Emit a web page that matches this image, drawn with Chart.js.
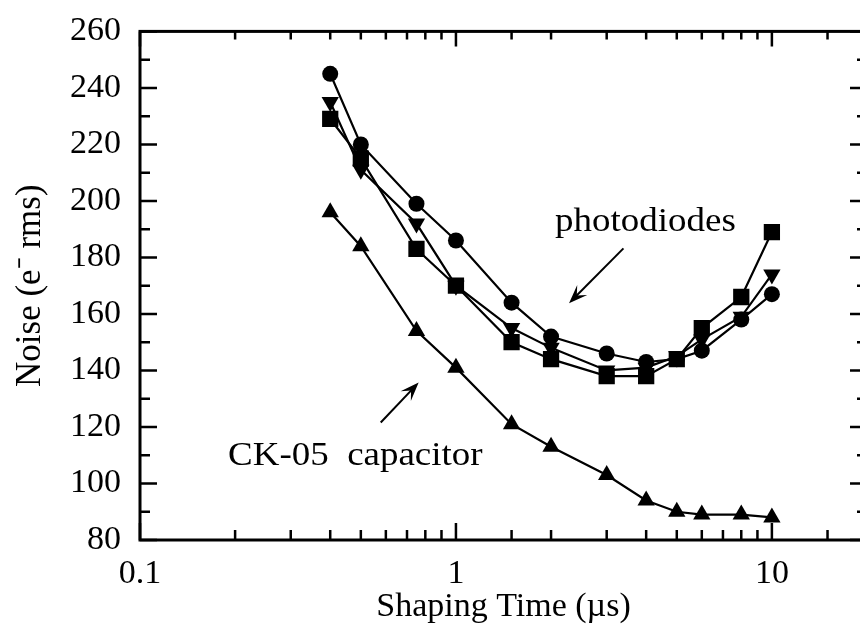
<!DOCTYPE html>
<html>
<head>
<meta charset="utf-8">
<script src="https://cdn.jsdelivr.net/npm/chart.js@4.4.1/dist/chart.umd.min.js"></script>
<style>
body { margin: 0; background: #fff; overflow: hidden; }
#wrap { width: 880px; height: 635px; }
</style>
</head>
<body>
<div id="wrap"><canvas id="myChart"></canvas></div>
<script>
// Shaping time values (us)
var shapingTimes = [0.4, 0.5, 0.75, 1, 1.5, 2, 3, 4, 5, 6, 8, 10];

// Noise (e- rms) for each curve
var diodeCircles   = [245, 220, 199, 186, 164, 152, 146, 143, 144, 147, 158, 167];
var diodeSquares   = [229, 215, 183, 170, 150, 144, 138, 138, 144, 155, 166, 189];
var diodeTriangles = [235, 211, 192, 170, 155, 148, 140, 141, 145, 151, 159, 174];
var capacitorNoise = [196, 184, 154, 141, 121, 113, 103, 94, 90, 89, 89, 88];

// Tick labels
var yTickLabels = [80, 100, 120, 140, 160, 180, 200, 220, 240, 260];
var xTickLabels = [0.1, 1, 10];

// Annotations, in data units (shaping time, noise)
var noteTexts  = ['photodiodes', 'CK-05  capacitor'];
var noteAt     = [[2.06, 189.2], [0.19, 106.4]];
var arrowFrom  = [[3.39, 183.2], [0.578, 121.6]];
var arrowTo    = [[2.28, 163.8], [0.762, 135.7]];

var serif = '"Liberation Serif", "Times New Roman", serif';

function toPoints(values) {
    return shapingTimes.map(function(t, i) {
        return { x: t, y: values[i] };
    });
}

function isDecade(v) {
    var l = Math.log10(v);
    return Math.abs(l - Math.round(l)) < 1e-6;
}

function makeSet(values, style, radius, rotation) {
    return {
        data: toPoints(values),
        borderColor: '#000',
        backgroundColor: '#000',
        borderWidth: 2.2,
        pointStyle: style,
        pointRadius: radius,
        pointRotation: rotation || 0,
        pointBorderWidth: 0,
        tension: 0
    };
}

// Inward ticks on all four sides, frame, and text notes
var frameTicks = {
    id: 'frameTicks',
    afterDatasetsDraw: function(chart) {
        var ctx = chart.ctx;
        var a = chart.chartArea;
        var xs = chart.scales.x;
        var ys = chart.scales.y;
        ctx.save();
        ctx.strokeStyle = '#000';
        ctx.lineWidth = 2.5;
        ctx.beginPath();
        xs.ticks.forEach(function(t) {
            var px = xs.getPixelForValue(t.value);
            var major = isDecade(t.value);
            ctx.moveTo(px, a.bottom);
            ctx.lineTo(px, a.bottom - (major ? 17 : 10));
            ctx.moveTo(px, a.top);
            ctx.lineTo(px, a.top + (major ? 15 : 8));
        });
        ys.ticks.forEach(function(t) {
            var py = ys.getPixelForValue(t.value);
            var major = yTickLabels.indexOf(t.value) >= 0;
            ctx.moveTo(a.left, py);
            ctx.lineTo(a.left + (major ? 17 : 10), py);
            ctx.moveTo(a.right, py);
            ctx.lineTo(a.right - (major ? 17 : 10), py);
        });
        ctx.stroke();

        ctx.lineWidth = 3;
        ctx.strokeRect(a.left, a.top, a.right - a.left, a.bottom - a.top);

        // notes
        ctx.fillStyle = '#000';
        ctx.font = '33px ' + serif;
        ctx.textBaseline = 'alphabetic';
        noteTexts.forEach(function(txt, i) {
            var x = xs.getPixelForValue(noteAt[i][0]);
            var y = ys.getPixelForValue(noteAt[i][1]);
            ctx.save();
            ctx.translate(x, y);
            ctx.scale(1.12, 1);
            ctx.fillText(txt, 0, 0);
            ctx.restore();

            var x0 = xs.getPixelForValue(arrowFrom[i][0]);
            var y0 = ys.getPixelForValue(arrowFrom[i][1]);
            var x1 = xs.getPixelForValue(arrowTo[i][0]);
            var y1 = ys.getPixelForValue(arrowTo[i][1]);
            var ang = Math.atan2(y1 - y0, x1 - x0);
            ctx.lineWidth = 2;
            ctx.beginPath();
            ctx.moveTo(x0, y0);
            ctx.lineTo(x1 - 8 * Math.cos(ang), y1 - 8 * Math.sin(ang));
            ctx.stroke();
            var len = 20, spread = 0.36;
            ctx.beginPath();
            ctx.moveTo(x1, y1);
            ctx.lineTo(x1 - len * Math.cos(ang - spread), y1 - len * Math.sin(ang - spread));
            ctx.lineTo(x1 - 11 * Math.cos(ang), y1 - 11 * Math.sin(ang));
            ctx.lineTo(x1 - len * Math.cos(ang + spread), y1 - len * Math.sin(ang + spread));
            ctx.closePath();
            ctx.fill();
        });
        ctx.restore();
    }
};

var ctx = document.getElementById('myChart').getContext('2d');
var myChart = new Chart(ctx, {
    type: 'line',
    data: {
        datasets: [
            makeSet(diodeCircles, 'circle', 8),
            makeSet(diodeSquares, 'rect', 11.5),
            makeSet(diodeTriangles, 'triangle', 10, 180),
            makeSet(capacitorNoise, 'triangle', 10)
        ]
    },
    options: {
        responsive: true,
        maintainAspectRatio: false,
        animation: false,
        layout: { padding: { top: 29, right: 13, left: 0, bottom: 0 } },
        plugins: {
            legend: { display: false },
            tooltip: { enabled: false }
        },
        scales: {
            x: {
                type: 'logarithmic',
                min: 0.1,
                max: 20,
                grid: { display: false },
                border: { display: false },
                ticks: {
                    autoSkip: false,
                    maxRotation: 0,
                    padding: 6,
                    color: '#000',
                    font: { family: serif, size: 34 },
                    callback: function(v) {
                        return xTickLabels.indexOf(v) >= 0 || isDecade(v) && v <= 10 ? String(v) : '';
                    }
                },
                title: {
                    display: true,
                    text: 'Shaping Time (\u00b5s)',
                    color: '#000',
                    font: { family: serif, size: 34 },
                    padding: { top: 0, bottom: 8 }
                },
                afterFit: function(scale) { scale.height = 95; }
            },
            y: {
                min: 80,
                max: 260,
                grid: { display: false },
                border: { display: false },
                ticks: {
                    stepSize: 10,
                    autoSkip: false,
                    padding: 11,
                    color: '#000',
                    font: { family: serif, size: 34 },
                    callback: function(v) {
                        return yTickLabels.indexOf(v) >= 0 ? String(v) : '';
                    }
                },
                title: {
                    display: true,
                    text: 'Noise (e\u207b rms)',
                    color: '#000',
                    font: { family: serif, size: 35 },
                    padding: { top: 10, bottom: 0 }
                },
                afterFit: function(scale) { scale.width = 140; }
            }
        }
    },
    plugins: [frameTicks]
});
</script>
</body>
</html>
